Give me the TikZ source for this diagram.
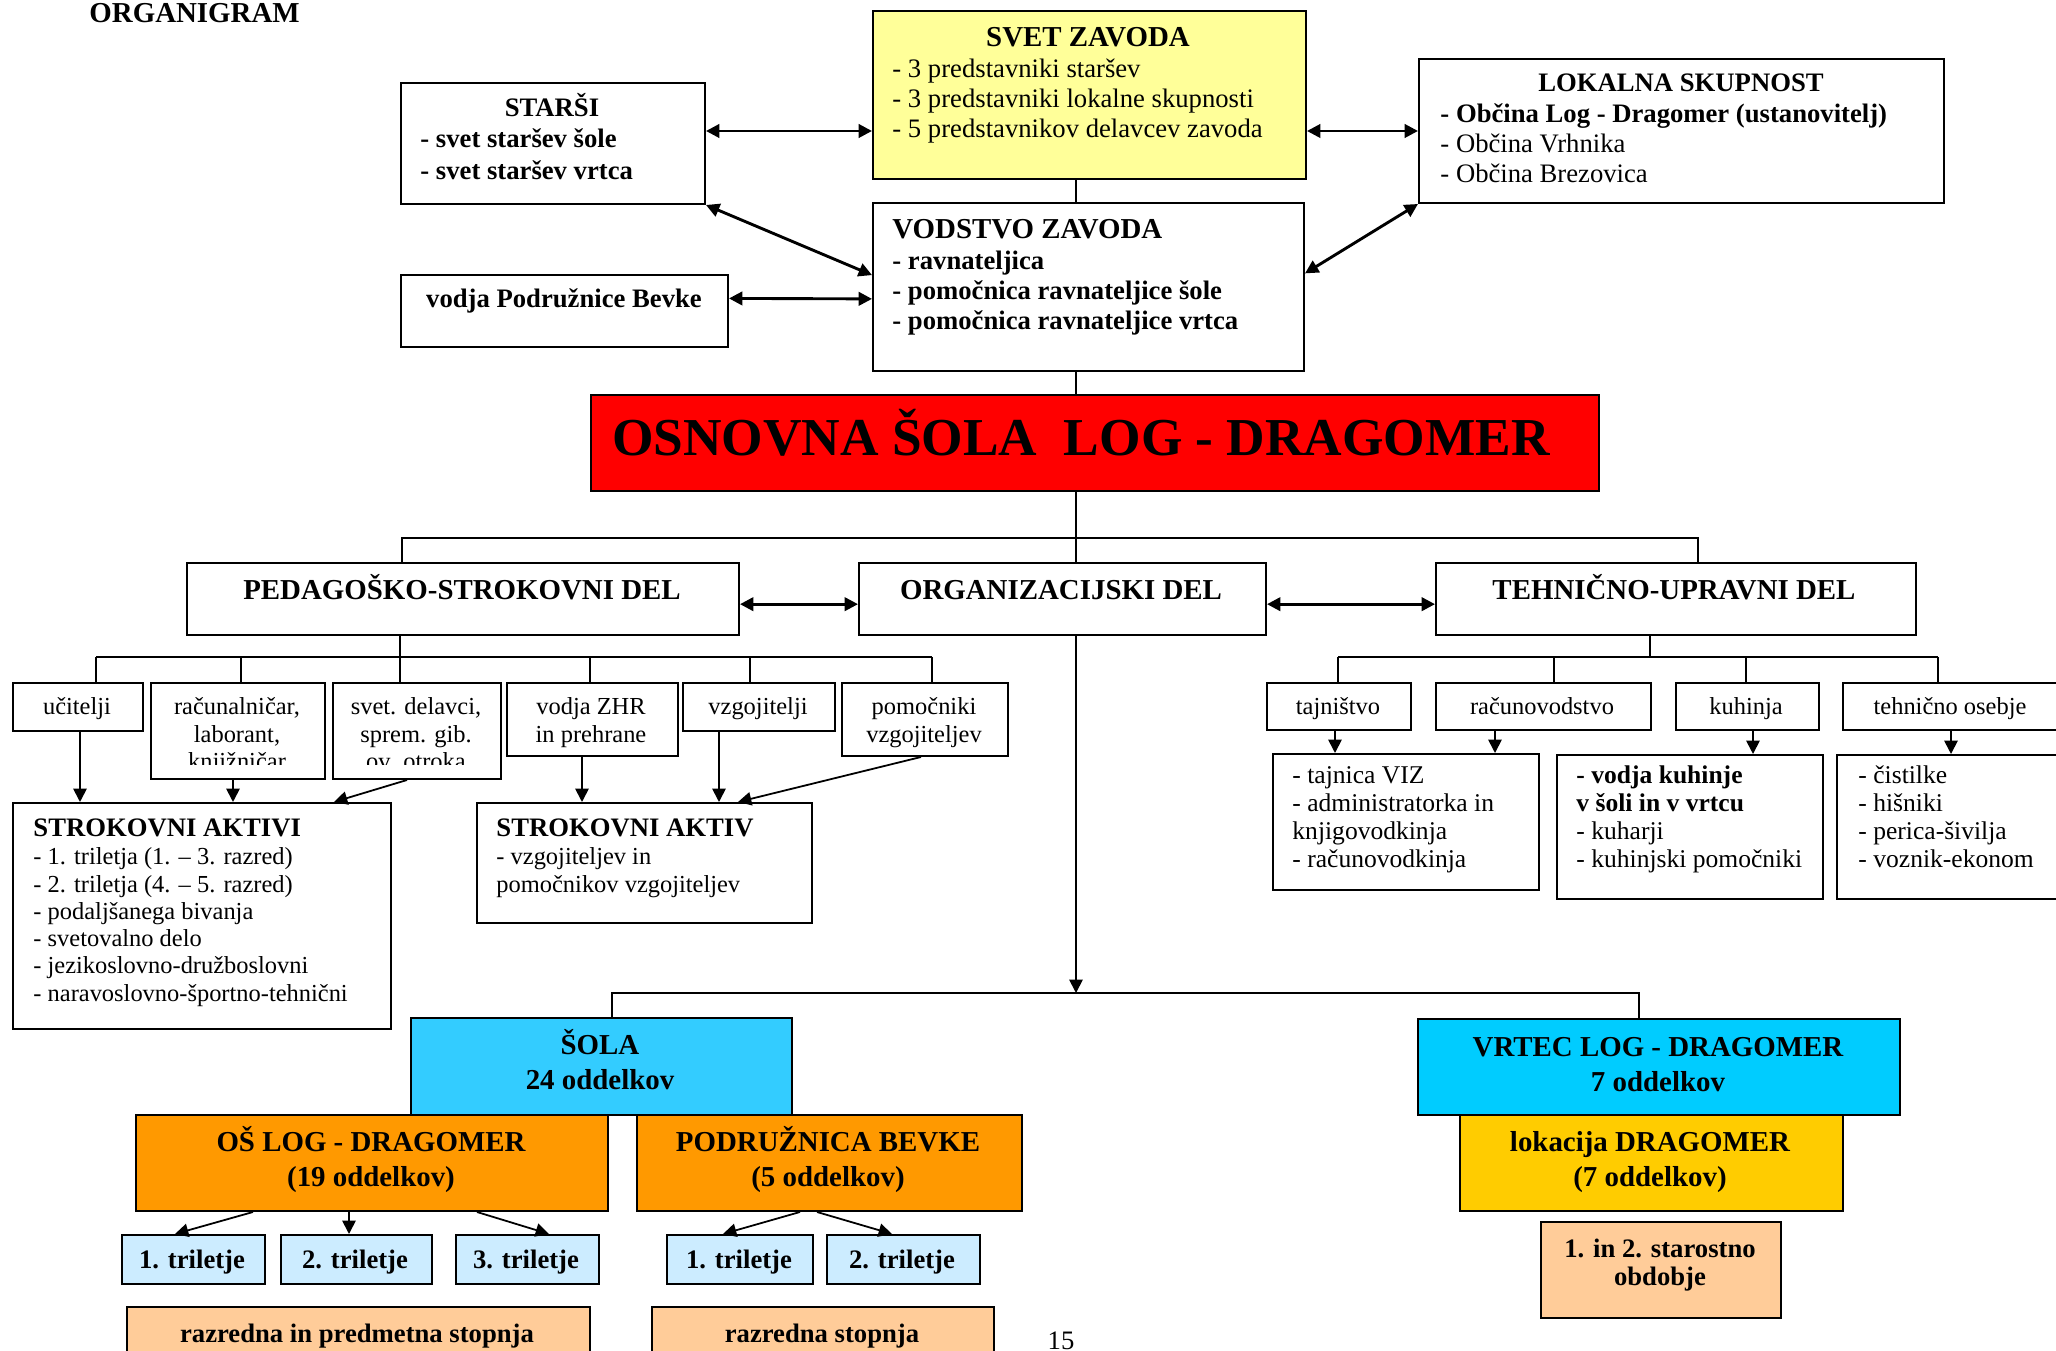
\documentclass[tikz,border=0pt]{standalone}
\usepackage{fontspec}
\setmainfont{Liberation Serif}
\usetikzlibrary{arrows.meta,calc}
\definecolor{svetyellow}{HTML}{FFFF99}
\definecolor{osred}{HTML}{FF0000}
\definecolor{solablue}{HTML}{33CCFF}
\definecolor{vrtecblue}{HTML}{00CCFF}
\definecolor{orangebox}{HTML}{FF9900}
\definecolor{lokyellow}{HTML}{FFCC00}
\definecolor{trilblue}{HTML}{CCECFF}
\definecolor{peach}{HTML}{FFCC99}
\def\orgbox[#1](#2)(#3,#4)(#5,#6){\node[box,#1,minimum width={(#5-#3)*0.45pt},minimum height={(#6-#4)*0.45pt}] (#2) at (#3,#4) {};}
\newcommand{\lrows}[1]{\begin{tabular}[t]{@{}l@{}}#1\end{tabular}}
\newcommand{\crows}[1]{\begin{tabular}[t]{@{}c@{}}#1\end{tabular}}
\newcommand{\fhead}{\fontsize{13}{15}\selectfont\bfseries}
\newcommand{\fbold}{\fontsize{12}{13.5}\selectfont\bfseries}
\newcommand{\fbody}{\fontsize{12}{13.5}\selectfont}
\newcommand{\fsmall}{\fontsize{11}{12.2}\selectfont}
\tikzset{
	box/.style={draw, line width=0.9pt, inner sep=0pt, anchor=north west},
	txt/.style={inner sep=0pt, anchor=base west},
	ctxt/.style={inner sep=0pt, anchor=base},
	conn/.style={line width=0.7pt},
	arr/.style={line width=0.8pt, -{Triangle[length=6pt,width=6pt]}},
	dblarr/.style={line width=1.3pt, {Triangle[length=6pt,width=6pt]}-{Triangle[length=6pt,width=6pt]}}
}

\begin{document}
\begin{tikzpicture}[x=0.45pt,y=-0.45pt]
			%%%%% START %%%%%
			\useasboundingbox[fill=white] (0,0) rectangle (2056,1351);
			\coordinate (spine) at (1076,0);
			
			\node[txt,font=\fhead] (title) at (89,23) {ORGANIGRAM};
			
			% vodstvo in sveti
			\orgbox[fill=svetyellow](svet)(872,10)(1305,178)
			\orgbox[](starsi)(400,82)(704,203)
			\orgbox[](vodstvo)(872,202)(1303,370)
			\orgbox[](vodja)(400,274)(727,346)
			\orgbox[](lokalna)(1418,58)(1943,202)
			
			\node[ctxt,font=\fhead] (svet-h) at (1088,47) {SVET ZAVODA};
			\node[txt,font=\fbody] (svet-l) at (892,78) {\lrows{- 3 predstavniki staršev\\- 3 predstavniki lokalne skupnosti\\- 5 predstavnikov delavcev zavoda}};
			\node[ctxt,font=\fbold] (starsi-h) at (552,117) {STARŠI};
			\node[txt,font=\fontsize{12}{14}\selectfont\bfseries] (starsi-l) at (420,148) {\lrows{- svet staršev šole\\- svet staršev vrtca}};
			\node[ctxt,font=\fbold] (vodja-t) at (564,308) {vodja Podružnice Bevke};
			\node[txt,font=\fhead] (vodstvo-h) at (892,239) {VODSTVO ZAVODA};
			\node[txt,font=\fbold] (vodstvo-l) at (892,270) {\lrows{- ravnateljica\\- pomočnica ravnateljice šole\\- pomočnica ravnateljice vrtca}};
			\node[ctxt,font=\fbold] (lokalna-h) at (1681,92) {LOKALNA SKUPNOST};
			\node[txt,font=\fbody] (lokalna-l) at (1440,123) {\lrows{\textbf{- Občina Log - Dragomer (ustanovitelj)}\\- Občina Vrhnika\\- Občina Brezovica}};
			
			\draw[dblarr] (starsi.east |- lokalna.west) -- (svet.west |- lokalna.west);
			\draw[dblarr] (svet.east |- lokalna.west) -- (lokalna.west);
			\draw[dblarr] (starsi.south east) -- ($(vodstvo.north west)!.43!(vodstvo.south west)$);
			\draw[dblarr] ($(vodja.north east)!.33!(vodja.south east)$) -- ($(vodstvo.north west)!.57!(vodstvo.south west)$);
			\draw[dblarr] ($(vodstvo.north east)!.42!(vodstvo.south east)$) -- (lokalna.south west);
			\draw[conn] (svet.south -| spine) -- (vodstvo.north -| spine);
			
			% sola
			\orgbox[fill=osred](osnovna)(590,394)(1598,490)
			\node[ctxt,font=\fontsize{24}{28}\selectfont\bfseries] (osnovna-t) at (1081,456) {OSNOVNA ŠOLA\ \ LOG - DRAGOMER};
			\draw[conn] (vodstvo.south -| spine) -- (osnovna.north -| spine);
			
			\orgbox[](pedag)(186,562)(738,634)
			\orgbox[](org)(858,562)(1265,634)
			\orgbox[](tehn)(1435,562)(1915,634)
			\node[ctxt,font=\fhead] (pedag-t) at (462,600) {PEDAGOŠKO-STROKOVNI DEL};
			\node[ctxt,font=\fhead] (org-t) at (1061,600) {ORGANIZACIJSKI DEL};
			\node[ctxt,font=\fhead] (tehn-t) at (1674,600) {TEHNIČNO-UPRAVNI DEL};
			
			\draw[conn] (osnovna.south -| spine) -- (org.north -| spine);
			\draw[conn] (pedag.north -| 402,0) |- (1698,538) -- (tehn.north -| 1698,0);
			\draw[dblarr] ($(pedag.north east)!.57!(pedag.south east)$) -- ($(org.north west)!.57!(org.south west)$);
			\draw[dblarr] ($(org.north east)!.57!(org.south east)$) -- ($(tehn.north west)!.57!(tehn.south west)$);
			
			% pedagosko-strokovni del
			\orgbox[](uc)(12,682)(142,730)
			\orgbox[](rac)(150,682)(324,778)
			\orgbox[](svd)(332,682)(500,778)
			\orgbox[](zhr)(506,682)(677,755)
			\orgbox[](vzg)(682,682)(834,730)
			\orgbox[](pom)(841,682)(1007,755)
			\node[ctxt,font=\fsmall] (uc-t) at (77,715) {učitelji};
			\begin{scope}
				\clip (rac.north west) rectangle (rac.east |- 0,765);
				\node[ctxt,font=\fsmall] (rac-t) at (237,715) {\crows{računalničar,\\laborant,\\knjižničar}};
			\end{scope}
			\begin{scope}
				\clip (svd.north west) rectangle (svd.east |- 0,765);
				\node[ctxt,font=\fsmall] (svd-t) at (416,715) {\crows{svet. delavci,\\sprem. gib.\\ov. otroka}};
			\end{scope}
			\node[ctxt,font=\fsmall] (zhr-t) at (591,715) {\crows{vodja ZHR\\in prehrane}};
			\node[ctxt,font=\fsmall] (vzg-t) at (758,715) {vzgojitelji};
			\node[ctxt,font=\fsmall] (pom-t) at (924,715) {\crows{pomočniki\\vzgojiteljev}};
			
			\draw[conn] (pedag.south -| 400,0) -- (400,657);
			\draw[conn] (96,657) -- (932,657);
			\foreach \n/\x in {uc/96,rac/241,svd/400,zhr/590,vzg/750,pom/932}
				\draw[conn] (\x,657) -- (\n.north -| \x,0);
			
			\orgbox[](aktivi)(12,802)(390,1028)
			\orgbox[](aktiv)(476,802)(811,922)
			\node[txt,font=\fbold] (aktivi-h) at (33,837) {STROKOVNI AKTIVI};
			\node[txt,font=\fontsize{11}{12.25}\selectfont] (aktivi-l) at (33,865) {\lrows{- 1. triletja (1. – 3. razred)\\- 2. triletja (4. – 5. razred)\\- podaljšanega bivanja\\- svetovalno delo\\- jezikoslovno-družboslovni\\- naravoslovno-športno-tehnični}};
			\node[txt,font=\fbold] (aktiv-h) at (496,837) {STROKOVNI AKTIV};
			\node[txt,font=\fontsize{11}{12.25}\selectfont] (aktiv-l) at (496,865) {\lrows{- vzgojiteljev in\\pomočnikov vzgojiteljev}};
			
			\foreach \n/\m/\x in {uc/aktivi/80,rac/aktivi/233,zhr/aktiv/582,vzg/aktiv/719}
				\draw[arr] (\n.south -| \x,0) -- (\m.north -| \x,0);
			\draw[arr] (svd.south -| 407,0) -- (aktivi.north -| 334,0);
			\draw[arr] (pom.south -| 921,0) -- (aktiv.north -| 738,0);
			
			% tehnicno-upravni del
			\orgbox[](taj)(1266,682)(1410,729)
			\orgbox[](racv)(1435,682)(1650,729)
			\orgbox[](kuh)(1675,682)(1818,729)
			\orgbox[](teh)(1842,682)(2075,729)
			\node[ctxt,font=\fsmall] (taj-t) at (1338,715) {tajništvo};
			\node[ctxt,font=\fsmall] (racv-t) at (1542,715) {računovodstvo};
			\node[ctxt,font=\fsmall] (kuh-t) at (1746,715) {kuhinja};
			\node[ctxt,font=\fsmall] (teh-t) at (1950,715) {tehnično osebje};
			
			\draw[conn] (tehn.south -| 1650,0) -- (1650,657);
			\draw[conn] (1338,657) -- (1938,657);
			\foreach \n/\x in {taj/1338,racv/1554,kuh/1746,teh/1938}
				\draw[conn] (\x,657) -- (\n.north -| \x,0);
			
			\orgbox[](tajl)(1272,753)(1538,889)
			\orgbox[](kuhl)(1556,754)(1822,898)
			\orgbox[](tehl)(1836,754)(2075,898)
			\node[txt,font=\fontsize{11.5}{12.6}\selectfont] (tajl-l) at (1292,784) {\lrows{- tajnica VIZ\\- administratorka in\\knjigovodkinja\\- računovodkinja}};
			\node[txt,font=\fontsize{11.5}{12.6}\selectfont] (kuhl-l) at (1576,784) {\lrows{\textbf{- vodja kuhinje}\\\textbf{v šoli in v vrtcu}\\- kuharji\\- kuhinjski pomočniki}};
			\node[txt,font=\fontsize{11.5}{12.6}\selectfont] (tehl-l) at (1858,784) {\lrows{- čistilke\\- hišniki\\- perica-šivilja\\- voznik-ekonom}};
			
			\foreach \n/\m/\x in {taj/tajl/1335,racv/tajl/1495,kuh/kuhl/1753,teh/tehl/1951}
				\draw[arr] (\n.south -| \x,0) -- (\m.north -| \x,0);
			
			% sola in vrtec
			\orgbox[fill=solablue](sola)(410,1017)(791,1114)
			\orgbox[fill=orangebox](os)(135,1114)(607,1210)
			\orgbox[fill=orangebox](podr)(636,1114)(1021,1210)
			\orgbox[fill=vrtecblue](vrtec)(1417,1018)(1899,1114)
			\orgbox[fill=lokyellow](lok)(1459,1114)(1842,1210)
			\orgbox[fill=peach](obd)(1540,1221)(1780,1317)
			\node[ctxt,font=\fontsize{13}{15.75}\selectfont\bfseries] (sola-t) at (600,1055) {\crows{ŠOLA\\24 oddelkov}};
			\node[ctxt,font=\fontsize{13}{15.75}\selectfont\bfseries] (os-t) at (371,1152) {\crows{OŠ LOG - DRAGOMER\\(19 oddelkov)}};
			\node[ctxt,font=\fontsize{13}{15.75}\selectfont\bfseries] (podr-t) at (828,1152) {\crows{PODRUŽNICA BEVKE\\(5 oddelkov)}};
			\node[ctxt,font=\fontsize{13}{15.75}\selectfont\bfseries] (vrtec-t) at (1658,1056) {\crows{VRTEC LOG - DRAGOMER\\7 oddelkov}};
			\node[ctxt,font=\fontsize{13}{15.75}\selectfont\bfseries] (lok-t) at (1650,1152) {\crows{lokacija DRAGOMER\\(7 oddelkov)}};
			\node[ctxt,font=\fontsize{12}{13}\selectfont\bfseries] (obd-t) at (1660,1257) {\crows{1. in 2. starostno\\obdobje}};
			
			\draw[arr] (org.south -| spine) -- (spine |- 0,993);
			\draw[conn] (sola.north -| 612,0) |- (1639,993) -- (vrtec.north -| 1639,0);
			
			\orgbox[fill=trilblue](t1)(121,1234)(264,1283)
			\orgbox[fill=trilblue](t2)(280,1234)(431,1283)
			\orgbox[fill=trilblue](t3)(455,1234)(598,1283)
			\orgbox[fill=trilblue](p1)(666,1234)(812,1283)
			\orgbox[fill=trilblue](p2)(826,1234)(979,1283)
			\foreach \n/\x/\k in {t1/192/1,t2/355/2,t3/526/3,p1/739/1,p2/902/2}
				\node[ctxt,font=\fbold] (\n-t) at (\x,1268) {\k. triletje};
			
			\draw[arr] (os.south -| 253,0) -- (t1.north -| 175,0);
			\draw[arr] (os.south -| 349,0) -- (t2.north -| 349,0);
			\draw[arr] (os.south -| 477,0) -- (t3.north -| 549,0);
			\draw[arr] (podr.south -| 800,0) -- (p1.north -| 723,0);
			\draw[arr] (podr.south -| 817,0) -- (p2.north -| 892,0);
			
			\orgbox[fill=peach](stopnja)(126,1306)(589,1370)
			\orgbox[fill=peach](rstopnja)(651,1306)(993,1370)
			\node[ctxt,font=\fbold] (stopnja-t) at (357,1342) {razredna in predmetna stopnja};
			\node[ctxt,font=\fbold] (rstopnja-t) at (822,1342) {razredna stopnja};
			
			\node[ctxt,font=\fbody] (page) at (1061,1349) {15};
			%%%%% END %%%%%
\end{tikzpicture}
\end{document}
